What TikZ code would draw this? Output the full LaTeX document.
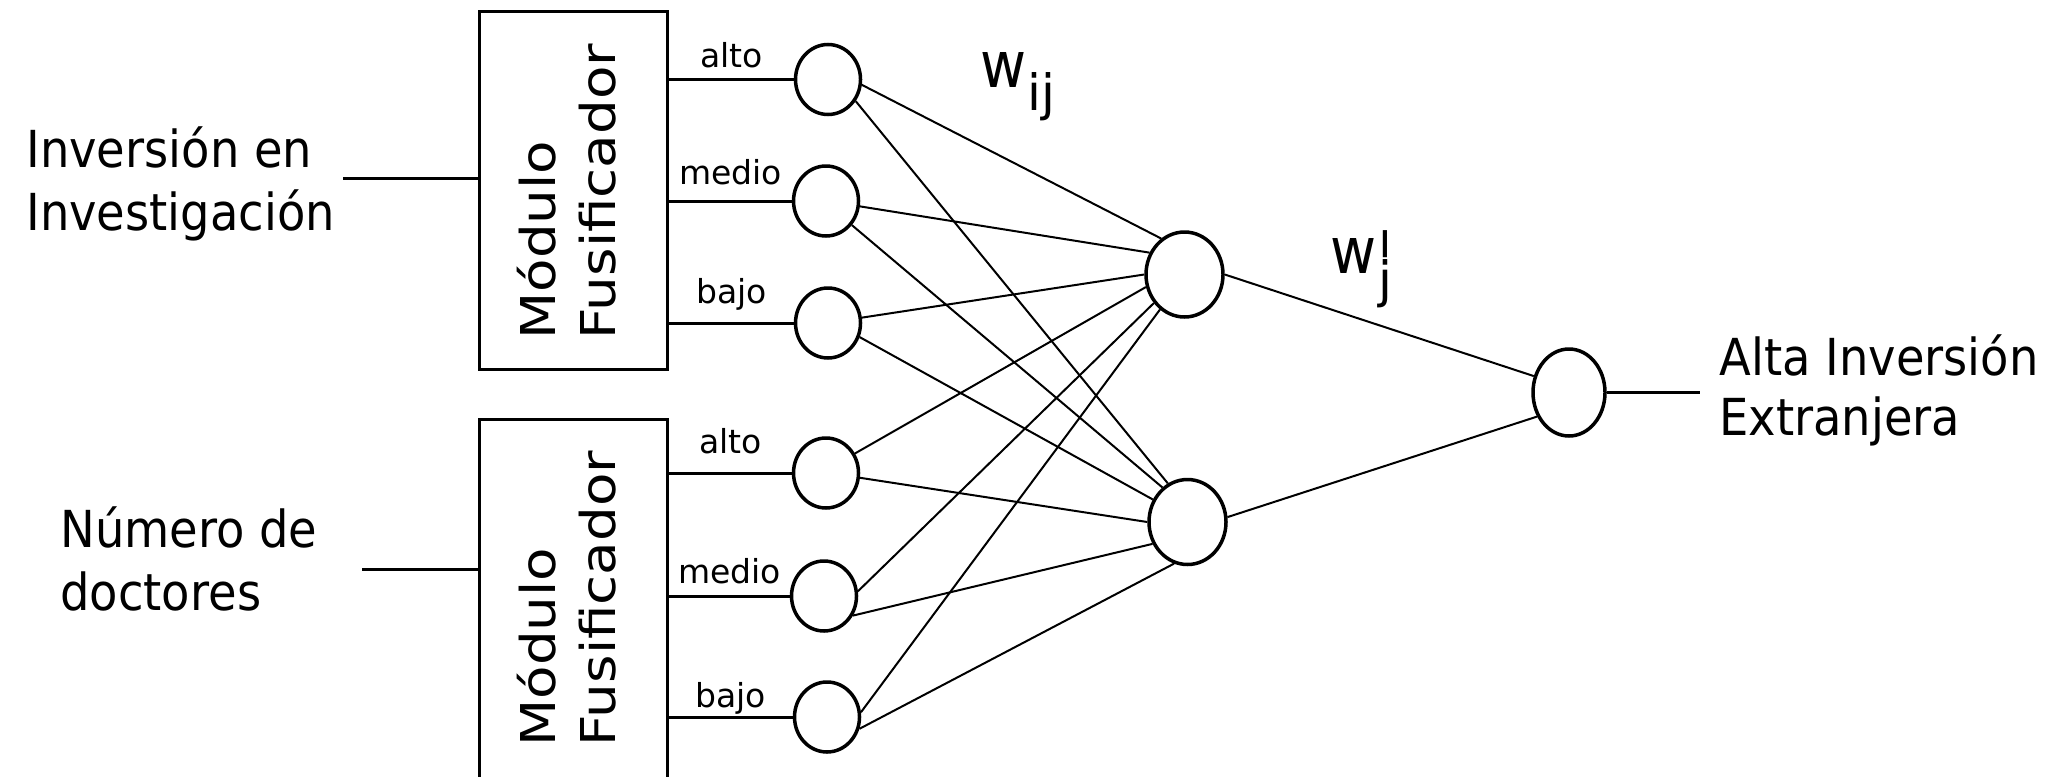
\documentclass[tikz,border=0pt]{standalone}
\usepackage{fontspec}
\usepackage{graphicx}
\usetikzlibrary{shapes.geometric}
\setmainfont{DejaVu Sans}
\newfontfamily\bigtxt[FakeStretch=0.91]{DejaVu Sans}
\newfontfamily\boxtxt[FakeStretch=1.14]{DejaVu Sans}
\newfontfamily\wtxt[FakeStretch=0.88]{DejaVu Sans}
\newfontfamily\plaintxt{DejaVu Sans}
% two stacked lines, baseline of the block = baseline of the first line
\newcommand\twoline[3]{\vtop{\baselineskip=#1\relax\lineskiplimit=-1000pt\relax\lineskip=0pt\relax\hbox{#2}\hbox{#3}}}

\tikzset{
  inbox/.style={draw, line width=1.5pt, rectangle, minimum width=94pt, minimum height=179pt, inner sep=0},
  wire/.style={line width=1.5pt},
  link/.style={line width=1pt},
  inneuron/.style={draw, ellipse, line width=1.75pt, minimum width=32.5pt, minimum height=35pt, inner sep=0},
  hidneuron/.style={draw, ellipse, line width=1.75pt, minimum width=38.5pt, minimum height=42.5pt, inner sep=0},
  outneuron/.style={draw, ellipse, line width=1.75pt, minimum width=36pt, minimum height=43.5pt, inner sep=0},
  bigtext/.style={anchor=base west, inner sep=0, font=\bigtxt\fontsize{25.5}{31}\selectfont},
  modtext/.style={anchor=base west, inner sep=0, rotate=90, font=\boxtxt\fontsize{24}{30}\selectfont},
  lbl/.style={anchor=base, inner sep=0, font=\plaintxt\fontsize{16.5}{20}\selectfont},
}

\begin{document}
\begin{tikzpicture}[x=0.5pt, y=-0.5pt]
\path[use as bounding box, fill=white] (0,0) rectangle (2059,776);

% input texts
\node[bigtext] (txtinv) at (26,167) {\twoline{31.5pt}{Inversión en}{Investigación}};
\node[bigtext] (txtdoc) at (60,547) {\twoline{31.5pt}{Número de}{doctores}};
\coordinate (in1) at (343,178);
\coordinate (in2) at (362,569);

% fuzzifier modules
\node[inbox] (box1) at (573.5,190.5) {};
\node[inbox, minimum height=181.5pt] (box2) at (573.5,601) {};
\node[modtext] (mod1) at (555,340) {\twoline{30pt}{Módulo}{Fusificador}};
\node[modtext] (mod2) at (555,747) {\twoline{30pt}{Módulo}{Fusificador}};

\draw[wire] (in1) -- (in1 -| box1.west);
\draw[wire] (in2) -- (in2 -| box2.west);

% membership neurons
\node[inneuron] (a1) at (828,79.5) {};
\node[inneuron] (m1) at (826,201) {};
\node[inneuron] (b1) at (828,323) {};
\node[inneuron] (a2) at (826,473) {};
\node[inneuron] (m2) at (824,596) {};
\node[inneuron] (b2) at (827,717) {};

\draw[wire] (a1.west -| box1.east) -- node[lbl, yshift=6.25pt] {alto} (a1.west);
\draw[wire] (m1.west -| box1.east) -- node[lbl, yshift=8.5pt] {medio} (m1.west);
\draw[wire] (b1.west -| box1.east) -- node[lbl, yshift=10pt] {bajo} (b1.west);
\draw[wire] (a2.west -| box2.east) -- node[lbl, yshift=10pt] {alto} (a2.west);
\draw[wire] (m2.west -| box2.east) -- node[lbl, yshift=6.5pt] {medio} (m2.west);
\draw[wire] (b2.west -| box2.east) -- node[lbl, yshift=5pt] {bajo} (b2.west);

% hidden and output neurons
\node[hidneuron] (h1) at (1184.5,274.5) {};
\node[hidneuron] (h2) at (1187.5,522) {};
\node[outneuron] (o) at (1569,392.5) {};
\coordinate (out) at (1700,392.5);

% weighted links
\draw[link] (a1.-9) -- (h1.123);
\draw[link] (m1.-9) -- (h1.148);
\draw[link] (b1.9) -- (h1.180);
\draw[link] (a2.34) -- (h1.198);
\draw[link] (m2.8) -- (h1.223);
\draw[link] (b2.8) -- (h1.235);
\draw[link] (a1.-38) -- (h2.117);
\draw[link] (m1.-43) -- (h2.126);
\draw[link] (b1.-24) -- (h2.147);
\draw[link] (a2.-8) -- (h2.180);
\draw[link] (m2.-34) -- (h2.212);
\draw[link] (b2.-20) -- (h2.252);
\draw[link] (h1.0) -- (o.155);
\draw[link] (h2.7) -- (o.217);
\draw[wire] (o.east) -- (out);

% weight labels
\node[anchor=base west, inner sep=0] (wij) at (980,87)
  {\wtxt\fontsize{32}{38}\selectfont w\kern0.5pt\plaintxt\fontsize{25}{30}\selectfont\raisebox{-11.5pt}{ij}};
\node[anchor=base west, inner sep=0] (wj) at (1330,273)
  {\wtxt\fontsize{32}{38}\selectfont w\kern1pt\plaintxt\fontsize{25}{30}\selectfont\rlap{\raisebox{-15pt}{\scalebox{1}[2]{\textquotesingle}}}\raisebox{-12pt}{j}};

% output text
\node[bigtext] (txtout) at (1719,375) {\twoline{30pt}{Alta Inversión}{Extranjera}};
\end{tikzpicture}
\end{document}
